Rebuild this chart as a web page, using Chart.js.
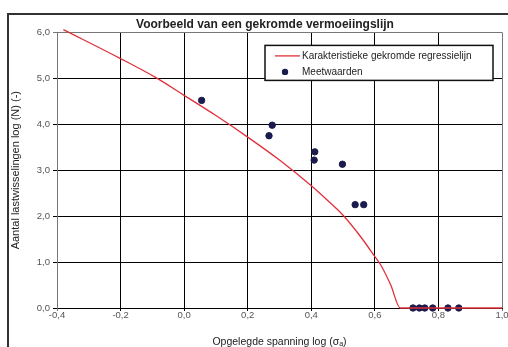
<!DOCTYPE html>
<html lang="nl">
<head>
<meta charset="UTF-8">
<title>Vermoeiingslijn</title>
<script src="https://cdn.jsdelivr.net/npm/chart.js@4.4.0/dist/chart.umd.min.js"></script>
<style>
    body { margin: 0; overflow: hidden; background: #fff; }
    .frame {
        position: absolute; left: 7px; top: 13px;
        width: 600px; height: 400px;
        border: 2px solid #333;
    }
    .chart-box { position: absolute; left: 0; top: 0; }
</style>
</head>
<body>
<div class="frame"></div>
<div class="chart-box"><canvas id="fatigueChart" width="530" height="347"></canvas></div>

<script>
// gekromde regressielijn: log spanning -> log N
const curveX = [-0.38, -0.2, -0.09, 0.0, 0.1, 0.2, 0.3, 0.4, 0.45, 0.5, 0.55, 0.6, 0.62, 0.65, 0.68, 1.0];
const curveY = [6.06, 5.43, 5.02, 4.63, 4.19, 3.72, 3.22, 2.66, 2.35, 2.02, 1.6, 1.12, 0.92, 0.5, 0.0, 0.0];

// meetwaarden
const measuredX = [0.055, 0.277, 0.267, 0.411, 0.409, 0.498, 0.538, 0.565, 0.72, 0.74, 0.757, 0.782, 0.83, 0.864];
const measuredY = [4.52, 3.98, 3.75, 3.40, 3.22, 3.13, 2.25, 2.25, 0, 0, 0, 0, 0, 0];

const xTicks = [-0.4, -0.2, 0.0, 0.2, 0.4, 0.6, 0.8, 1.0];
const yTicks = [0, 1, 2, 3, 4, 5, 6];

const seriesLabels = ['Karakteristieke gekromde regressielijn', 'Meetwaarden'];

const toPoints = (xs, ys) => xs.map((x, i) => ({ x: x, y: ys[i] }));
const comma = v => v.toFixed(1).replace('.', ',');

Chart.defaults.font.family = '"Liberation Sans", Arial, sans-serif';
Chart.defaults.color = '#555';

// legenda in een kader binnen het plotgebied
const boxLegend = {
    id: 'boxLegend',
    afterDraw(chart) {
        const { ctx, chartArea } = chart;
        const [line, dots] = chart.data.datasets;
        const w = 228, h = 35;
        const left = chartArea.right - 237;
        const top = chartArea.top + 13;
        ctx.save();
        ctx.fillStyle = '#fff';
        ctx.fillRect(left, top, w, h);
        ctx.strokeStyle = '#111';
        ctx.lineWidth = 1.5;
        ctx.strokeRect(left, top, w, h);

        ctx.strokeStyle = line.borderColor;
        ctx.lineWidth = line.borderWidth;
        ctx.beginPath();
        ctx.moveTo(left + 10, top + 10.5);
        ctx.lineTo(left + 35, top + 10.5);
        ctx.stroke();

        ctx.fillStyle = dots.backgroundColor;
        ctx.beginPath();
        ctx.arc(left + 20, top + 26.5, dots.pointRadius, 0, Math.PI * 2);
        ctx.fill();

        ctx.fillStyle = '#222';
        ctx.font = '10px "Liberation Sans", Arial, sans-serif';
        ctx.textBaseline = 'middle';
        ctx.fillText(line.label, left + 37, top + 10.5);
        ctx.fillText(dots.label, left + 37, top + 26.5);
        ctx.restore();
    }
};

new Chart(document.getElementById('fatigueChart'), {
    type: 'scatter',
    data: {
        datasets: [{
            label: seriesLabels[0],
            data: toPoints(curveX, curveY),
            showLine: true,
            borderColor: '#e0303a',
            borderWidth: 1.3,
            pointRadius: 0,
            cubicInterpolationMode: 'monotone',
            clip: false
        }, {
            label: seriesLabels[1],
            data: toPoints(measuredX, measuredY),
            backgroundColor: '#1b1b4d',
            borderColor: '#1b1b4d',
            pointRadius: 3.2,
            clip: false
        }]
    },
    options: {
        responsive: false,
        animation: false,
        layout: { padding: { left: 28, right: 28, top: 0, bottom: 0 } },
        plugins: {
            legend: { display: false },
            tooltip: { enabled: false },
            title: {
                display: true,
                text: 'Voorbeeld van een gekromde vermoeiingslijn',
                color: '#222',
                font: { size: 12, weight: 'bold' },
                padding: { top: 17, bottom: 1 }
            }
        },
        scales: {
            x: {
                type: 'linear',
                min: -0.4,
                max: 1.0,
                afterBuildTicks: s => { s.ticks = xTicks.map(v => ({ value: v })); },
                afterFit: s => { s.height = 39; },
                ticks: {
                    callback: v => comma(v),
                    font: { size: 9.5, lineHeight: 1 },
                    padding: 0,
                    maxRotation: 0
                },
                grid: {
                    color: c => (c.tick && (c.tick.value === 1 || c.tick.value === -0.4)) ? '#777' : '#000',
                    lineWidth: 1,
                    tickLength: 3
                },
                border: { color: '#000', width: 1 },
                title: {
                    display: true,
                    text: 'Opgelegde spanning log (σₐ)',
                    color: '#222',
                    font: { size: 10.5, lineHeight: 1.2 },
                    padding: { top: 0, bottom: -1.8 }
                }
            },
            y: {
                type: 'linear',
                min: 0,
                max: 6,
                afterBuildTicks: s => { s.ticks = yTicks.map(v => ({ value: v })); },
                afterFit: s => { s.width = 29; },
                ticks: {
                    callback: v => comma(v),
                    font: { size: 9.5 },
                    padding: 3
                },
                grid: {
                    color: c => (c.tick && c.tick.value === 6) ? '#777' : '#000',
                    lineWidth: 1,
                    tickLength: 4
                },
                border: { color: '#777', width: 1 },
                title: {
                    display: true,
                    text: 'Aantal lastwisselingen log (N) (-)',
                    color: '#222',
                    font: { size: 11, lineHeight: 1.2 },
                    padding: { top: -18.6, bottom: 0 }
                }
            }
        }
    },
    plugins: [boxLegend]
});
</script>
</body>
</html>
